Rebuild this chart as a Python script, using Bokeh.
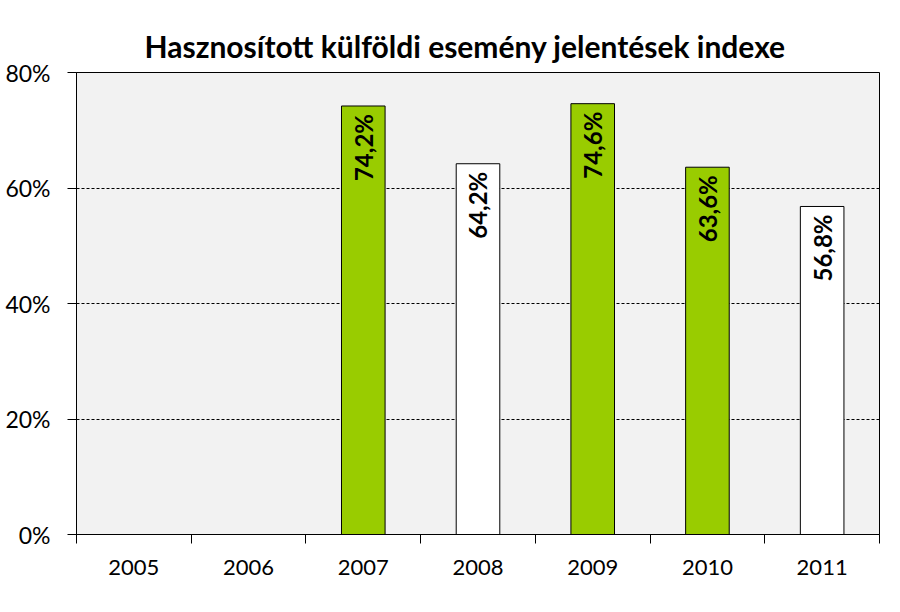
from bokeh.plotting import figure
from bokeh.models import (ColumnDataSource, Range1d, FixedTicker, PrintfTickFormatter,
                          LabelSet, LinearAxis)
from bokeh.core.properties import value
from bokeh.embed import file_html
from bokeh.resources import INLINE
import math

years = ["2005", "2006", "2007", "2008", "2009", "2010", "2011"]
values = [float("nan"), float("nan"), 74.2, 64.2, 74.6, 63.6, 56.8]
colors = ["#99CC00", "#99CC00", "#99CC00", "#FFFFFF", "#99CC00", "#99CC00", "#FFFFFF"]
label_texts = ["", "", "74,2%", "64,2%", "74,6%", "63,6%", "56,8%"]
y_ticks = [0, 20, 40, 60, 80]

FONT = "Lato"

xs = [i + 0.5 for i in range(len(years))]
src = ColumnDataSource(dict(x=xs, top=values, color=colors, lab=label_texts))

p = figure(width=900, height=612, output_backend="svg", toolbar_location=None,
           x_range=Range1d(0, len(years)), y_range=Range1d(0, 80),
           min_border_left=76, min_border_right=21, min_border_bottom=78, min_border_top=72,
           x_axis_type=None)

p.title.text = "Hasznosított külföldi esemény jelentések indexe"
p.title.text_font = FONT
p.title.text_font_size = "30px"
p.title.text_font_style = "bold"
p.title.text_color = "black"
p.title.align = "left"
p.title.offset = 68
p.title.standoff = 17

p.background_fill_color = "#F2F2F2"
p.border_fill_color = "white"
p.outline_line_color = "black"
p.outline_line_width = 1

p.vbar(x="x", top="top", width=0.38, bottom=0, source=src,
       fill_color="color", line_color="black", line_width=1)

labels = LabelSet(x="x", y="top", text="lab", source=src, angle=math.pi / 2,
                  text_align="right", text_baseline="middle", y_offset=-8,
                  text_font=value(FONT), text_font_style="bold", text_font_size="24px",
                  text_color="black")
p.add_layout(labels)

# y axis
p.yaxis.ticker = FixedTicker(ticks=y_ticks)
p.yaxis.formatter = PrintfTickFormatter(format="%d%%")
p.yaxis.major_label_text_font = FONT
p.yaxis.major_label_text_font_size = "23px"
p.yaxis.major_label_text_color = "black"
p.yaxis.major_tick_out = 9
p.yaxis.major_tick_in = 0
p.yaxis.minor_tick_line_color = None
p.yaxis.axis_line_color = "black"
p.yaxis.major_tick_line_color = "black"
p.yaxis.major_label_standoff = 17

# x axis: labels at centers, ticks at boundaries
xaxis = LinearAxis(ticker=FixedTicker(ticks=xs, minor_ticks=list(range(len(years) + 1))),
                   major_label_overrides={x: y for x, y in zip(xs, years)})
xaxis.major_tick_line_color = None
xaxis.major_tick_out = 9
xaxis.major_tick_in = 0
xaxis.minor_tick_line_color = "black"
xaxis.minor_tick_out = 9
xaxis.minor_tick_in = 0
xaxis.axis_line_color = "black"
xaxis.major_label_text_font = FONT
xaxis.major_label_text_font_size = "22px"
xaxis.major_label_text_color = "black"
xaxis.major_label_standoff = 16
p.add_layout(xaxis, "below")

p.xgrid.visible = False
p.ygrid.ticker = FixedTicker(ticks=[20, 40, 60])
p.ygrid.grid_line_color = "black"
p.ygrid.grid_line_dash = "3 2"
p.ygrid.grid_line_width = 1

open("out.html", "w").write(file_html(p, INLINE))
